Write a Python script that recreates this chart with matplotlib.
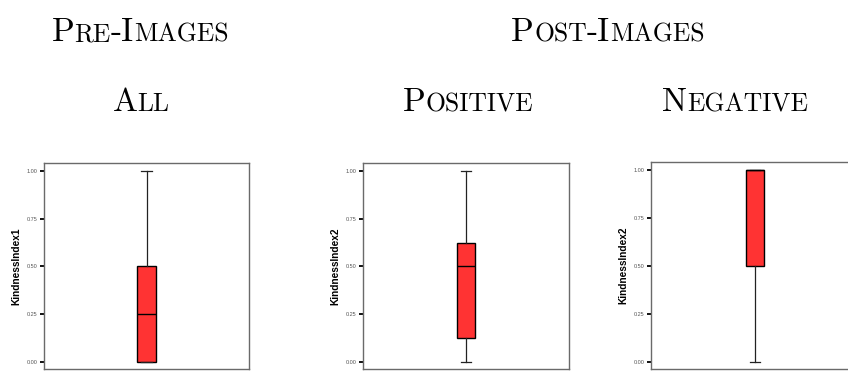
import matplotlib
matplotlib.use('Agg')
import matplotlib.pyplot as plt
from matplotlib.transforms import IdentityTransform

# ---- data ----
panel_labels = ['KindnessIndex1', 'KindnessIndex2', 'KindnessIndex2']
whislo = [0.0, 0.0, 0.0]
q1 = [0.0, 0.125, 0.5]
med = [0.25, 0.5, 1.0]
q3 = [0.5, 0.625, 1.0]
whishi = [1.0, 1.0, 1.0]
yticks = [0.0, 0.25, 0.5, 0.75, 1.0]
ytick_labels = ['0.00', '0.25', '0.50', '0.75', '1.00']
top_titles = ['Pre-Images', 'Post-Images']
sub_titles = ['All', 'Positive', 'Negative']

W, H = 848, 372
fig = plt.figure(figsize=(W / 100, H / 100), dpi=100)

# axes in pixel geometry (left, top, width, height)
axes_px = [(44, 163, 205, 206), (363, 163, 206, 206), (651, 162, 208, 207)]

for i, (l, t, w, h) in enumerate(axes_px):
    ax = fig.add_axes([l / W, (H - t - h) / H, w / W, h / H])
    stats = [dict(whislo=whislo[i], q1=q1[i], med=med[i], q3=q3[i],
                  whishi=whishi[i], fliers=[])]
    ax.bxp(stats, positions=[0], widths=0.176, patch_artist=True,
           showfliers=False, capwidths=0.098,
           boxprops=dict(facecolor='#ff3333', edgecolor='black', linewidth=1.0),
           medianprops=dict(color='black', linewidth=1.0),
           whiskerprops=dict(color='#222222', linewidth=0.9),
           capprops=dict(color='#222222', linewidth=0.9))
    ax.set_xlim(-1, 1)
    ax.set_ylim(-0.037, 1.042)
    ax.set_xticks([])
    ax.set_yticks(yticks)
    ax.set_yticklabels(ytick_labels, fontsize=4.0, color='#555555',
                       family='Liberation Sans')
    ax.tick_params(axis='y', direction='out', length=3, width=1.3,
                   color='black', pad=1.5)
    for sp in ax.spines.values():
        sp.set_color('#6a6a6a')
        sp.set_linewidth(1.0)
    ax.set_ylabel(panel_labels[i], fontsize=7.3, fontweight='bold',
                  family='Liberation Sans', va='center')
    ax.yaxis.set_label_coords(-28 / w, 0.5)

renderer = fig.canvas.get_renderer()


def smallcaps(text, cx, base_y, size, ratio=0.77):
    pieces = []
    for ch in text:
        if ch.islower():
            item = (ch.upper(), size * ratio)
        else:
            item = (ch, size)
        if pieces and pieces[-1][1] == item[1]:
            pieces[-1] = (pieces[-1][0] + item[0], item[1])
        else:
            pieces.append(item)
    objs = []
    for s, sz in pieces:
        tt = fig.text(0, 0, s, fontsize=sz, family='cmr10', va='baseline',
                      ha='left', transform=IdentityTransform(), color='black')
        objs.append(tt)
    widths = [o.get_window_extent(renderer).width for o in objs]
    x = cx - sum(widths) / 2
    for o, wd in zip(objs, widths):
        o.set_position((x, H - base_y))
        x += wd


title_size = 24
smallcaps(top_titles[0], 140, 41, title_size)
smallcaps(top_titles[1], 608, 41, title_size)
smallcaps(sub_titles[0], 141, 111, title_size)
smallcaps(sub_titles[1], 468, 111, title_size)
smallcaps(sub_titles[2], 735, 111, title_size)

fig.savefig('out.png', dpi=100)
